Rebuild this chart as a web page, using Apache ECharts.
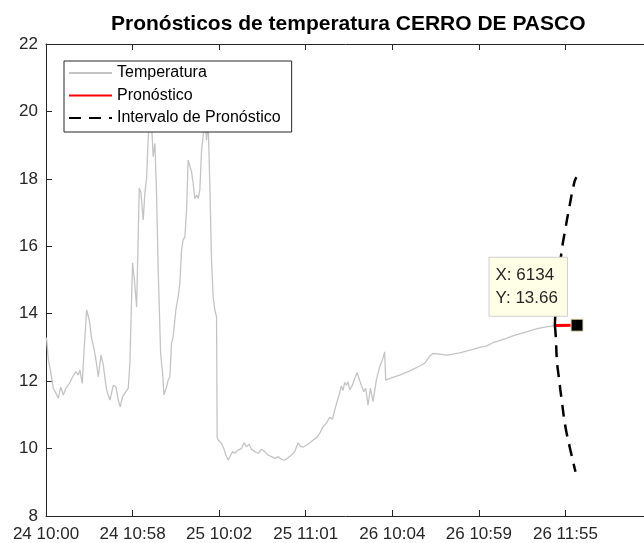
<!DOCTYPE html>
<html lang="es">
<head>
<meta charset="utf-8">
<title>Pronósticos de temperatura</title>
<script src="https://cdn.jsdelivr.net/npm/echarts@6/dist/echarts.min.js"></script>
<style>
  html, body { margin: 0; padding: 0; background: #fff; }
  #chart { width: 644px; height: 543px; }
</style>
</head>
<body>
<div id="chart"></div>
<script>
// etiquetas del eje x (cada 1000 muestras)
var tickLabels = ['24 10:00', '24 10:58', '25 10:02', '25 11:01', '26 10:04', '26 10:59', '26 11:55'];

// temperatura observada: indice de muestra y valor
var tempIdx = [0, 8, 27, 54, 84, 115, 142, 170, 200, 231, 269, 308, 346, 373, 392, 419, 442, 470, 500, 527,
  554, 577, 604, 635, 661, 700, 739, 777, 808, 834, 857, 885, 923, 950, 969, 989, 1000, 1021, 1047, 1077,
  1096, 1123, 1142, 1163, 1181, 1200, 1220, 1238, 1258, 1277, 1296, 1324, 1347, 1362, 1393, 1411, 1431, 1450, 1469, 1500,
  1527, 1546, 1566, 1584, 1604, 1624, 1642, 1662, 1681, 1700, 1719, 1739, 1758, 1777, 1797, 1815, 1835, 1855, 1873, 1893,
  1912, 1931, 1950, 1970, 1977, 1988, 2028, 2054, 2077, 2104, 2123, 2155, 2181, 2219, 2258, 2288, 2316, 2346, 2374, 2412,
  2450, 2489, 2527, 2565, 2605, 2643, 2681, 2720, 2758, 2796, 2835, 2873, 2912, 2939, 2969, 3008, 3047, 3085, 3124, 3162,
  3200, 3239, 3277, 3308, 3335, 3362, 3385, 3412, 3431, 3450, 3470, 3489, 3508, 3539, 3566, 3593, 3616, 3643, 3670, 3693,
  3720, 3747, 3777, 3816, 3854, 3886, 3912, 3924, 4008, 4085, 4163, 4239, 4316, 4374, 4431, 4470, 4547, 4624, 4700, 4778,
  4855, 4931, 5008, 5086, 5162, 5239, 5317, 5393, 5470, 5547, 5624, 5701, 5778, 5836, 5878];
var tempVal = [13.3, 13.22, 12.63, 12.28, 11.79, 11.64, 11.49, 11.83, 11.59, 11.79, 11.93, 12.13, 12.28, 12.18, 12.33, 11.93, 13.02, 14.11, 13.81, 13.27,
  12.97, 12.63, 12.13, 12.77, 12.48, 11.74, 11.44, 11.88, 11.83, 11.44, 11.24, 11.54, 11.69, 11.79, 12.53, 14.5, 15.51, 15.0, 14.2, 17.72,
  17.6, 16.78, 17.57, 18.06, 19.25, 19.9, 19.6, 18.66, 19.05, 17.57, 15.3, 12.82, 12.23, 11.59, 11.83, 12.03, 12.13, 13.12, 13.32, 14.11,
  14.5, 14.9, 15.89, 16.19, 16.28, 17.08, 18.56, 18.61, 18.21, 17.87, 17.42, 17.52, 17.42, 17.67, 18.86, 19.25, 19.8, 19.15, 19.7, 17.77,
  15.59, 14.5, 14.11, 13.91, 10.35, 10.25, 10.15, 10.0, 9.81, 9.66, 9.61, 9.91, 9.86, 9.96, 10.0, 10.17, 10.05, 10.13, 9.98, 9.91,
  9.86, 9.98, 9.91, 9.81, 9.76, 9.71, 9.76, 9.68, 9.66, 9.73, 9.81, 9.91, 10.17, 10.07, 10.04, 10.1, 10.17, 10.25, 10.32, 10.45,
  10.65, 10.75, 10.93, 10.87, 11.14, 11.39, 11.59, 11.86, 11.72, 11.96, 11.88, 11.98, 11.74, 11.88, 12.08, 12.25, 12.08, 11.88, 11.69, 11.79,
  11.29, 11.79, 11.39, 12.03, 12.43, 12.63, 12.87, 12.03, 12.11, 12.18, 12.26, 12.35, 12.45, 12.53, 12.74, 12.82, 12.8, 12.77, 12.8, 12.84,
  12.89, 12.94, 13.0, 13.04, 13.14, 13.2, 13.27, 13.34, 13.4, 13.46, 13.52, 13.57, 13.61, 13.63, 13.65];

// pronostico
var fcIdx = [5878, 6134];
var fcVal = [13.65, 13.66];

// intervalo de pronostico (limite superior e inferior)
var upIdx = [5878, 5891, 5908, 5932, 5958, 5997, 6039, 6105, 6128];
var upVal = [13.66, 14.3, 14.8, 15.3, 15.89, 16.48, 17.08, 17.92, 18.05];
var loIdx = [5878, 5889, 5902, 5923, 5962, 6000, 6058, 6116];
var loVal = [13.66, 13.3, 12.6, 12.13, 11.34, 10.65, 9.95, 9.31];

// punto marcado (datatip)
var tipIdx = [6134];
var tipVal = [13.66];

function zip(xs, ys) {
    var out = [];
    for (var i = 0; i < xs.length; i++) out.push([xs[i], ys[i]]);
    return out;
}

var axisColor = '#262626';
var font = 'Liberation Sans, Arial, sans-serif';

var myChart = echarts.init(document.getElementById('chart'));
var option = {
    animation: false,
    title: {
        text: 'Pronósticos de temperatura CERRO DE PASCO',
        left: 106,
        top: 9,
        textStyle: { fontFamily: font, fontSize: 21, fontWeight: 'bold', color: '#000' }
    },
    legend: {
        data: ['Temperatura', 'Pronóstico', 'Intervalo de Pronóstico'],
        orient: 'vertical',
        left: 64,
        top: 61,
        itemWidth: 43,
        itemHeight: 16,
        itemGap: 6.5,
        padding: [4, 11, 6, 4],
        borderColor: axisColor,
        borderWidth: 1,
        backgroundColor: '#fff',
        itemStyle: { opacity: 0 },
        textStyle: { fontFamily: font, fontSize: 16, color: '#000' }
    },
    grid: { left: 46, top: 44, right: -8, bottom: 27, containLabel: false, outerBoundsMode: 'none' },
    xAxis: [{
        type: 'value',
        min: 0, max: 7000, interval: 1000,
        axisLine: { lineStyle: { color: axisColor, width: 1 } },
        axisTick: { inside: true, length: 6, lineStyle: { color: axisColor } },
        axisLabel: {
            fontFamily: font, fontSize: 17, color: axisColor, margin: 10,
            formatter: function (v) { return tickLabels[Math.round(v / 1000)] || ''; }
        },
        splitLine: { show: false }
    }, {
        type: 'value',
        position: 'top',
        min: 0, max: 7000, interval: 1000,
        axisLine: { show: true, onZero: false, lineStyle: { color: axisColor, width: 1 } },
        axisTick: { inside: true, length: 6, lineStyle: { color: axisColor } },
        axisLabel: { show: false },
        splitLine: { show: false }
    }],
    yAxis: {
        type: 'value',
        min: 8, max: 22, interval: 2,
        axisLine: { show: true, lineStyle: { color: axisColor, width: 1 } },
        axisTick: { show: true, inside: true, length: 6, lineStyle: { color: axisColor } },
        axisLabel: { fontFamily: font, fontSize: 17, color: axisColor, margin: 8 },
        splitLine: { show: false }
    },
    series: [{
        name: 'Temperatura',
        type: 'line',
        data: zip(tempIdx, tempVal),
        showSymbol: false,
        symbol: 'none',
        lineStyle: { color: '#c4c4c4', width: 1.3 },
        itemStyle: { color: '#d4d4d4' },
        z: 2
    }, {
        name: 'Pronóstico',
        type: 'line',
        data: zip(fcIdx, fcVal),
        symbol: 'none',
        lineStyle: { color: '#ff0000', width: 3 },
        itemStyle: { color: '#ff0000' },
        z: 3
    }, {
        name: 'Intervalo de Pronóstico',
        type: 'line',
        data: zip(upIdx, upVal),
        symbol: 'none',
        smooth: true,
        lineStyle: { color: '#000', width: 2.5, type: [12, 8] },
        itemStyle: { color: '#000' },
        z: 3
    }, {
        name: 'Intervalo de Pronóstico',
        type: 'line',
        data: zip(loIdx, loVal),
        symbol: 'none',
        smooth: true,
        lineStyle: { color: '#000', width: 2.5, type: [12, 8] },
        itemStyle: { color: '#000' },
        z: 3
    }, {
        name: 'datatip',
        type: 'scatter',
        data: zip(tipIdx, tipVal),
        symbol: 'rect',
        symbolSize: 12,
        zlevel: 1,
        itemStyle: { color: '#000', opacity: 1, borderColor: '#e8e0b0', borderWidth: 1 },
        label: {
            show: true,
            position: [-81, -61],
            formatter: function (p) {
                return 'X: ' + p.value[0] + '\nY: ' + p.value[1].toFixed(2);
            },
            fontFamily: font,
            fontSize: 17,
            lineHeight: 23,
            color: axisColor,
            backgroundColor: '#ffffe8',
            borderColor: '#cfcfcf',
            borderWidth: 1,
            padding: [6, 9, 6, 6]
        },
        z: 10
    }]
};
myChart.setOption(option);
</script>
</body>
</html>
